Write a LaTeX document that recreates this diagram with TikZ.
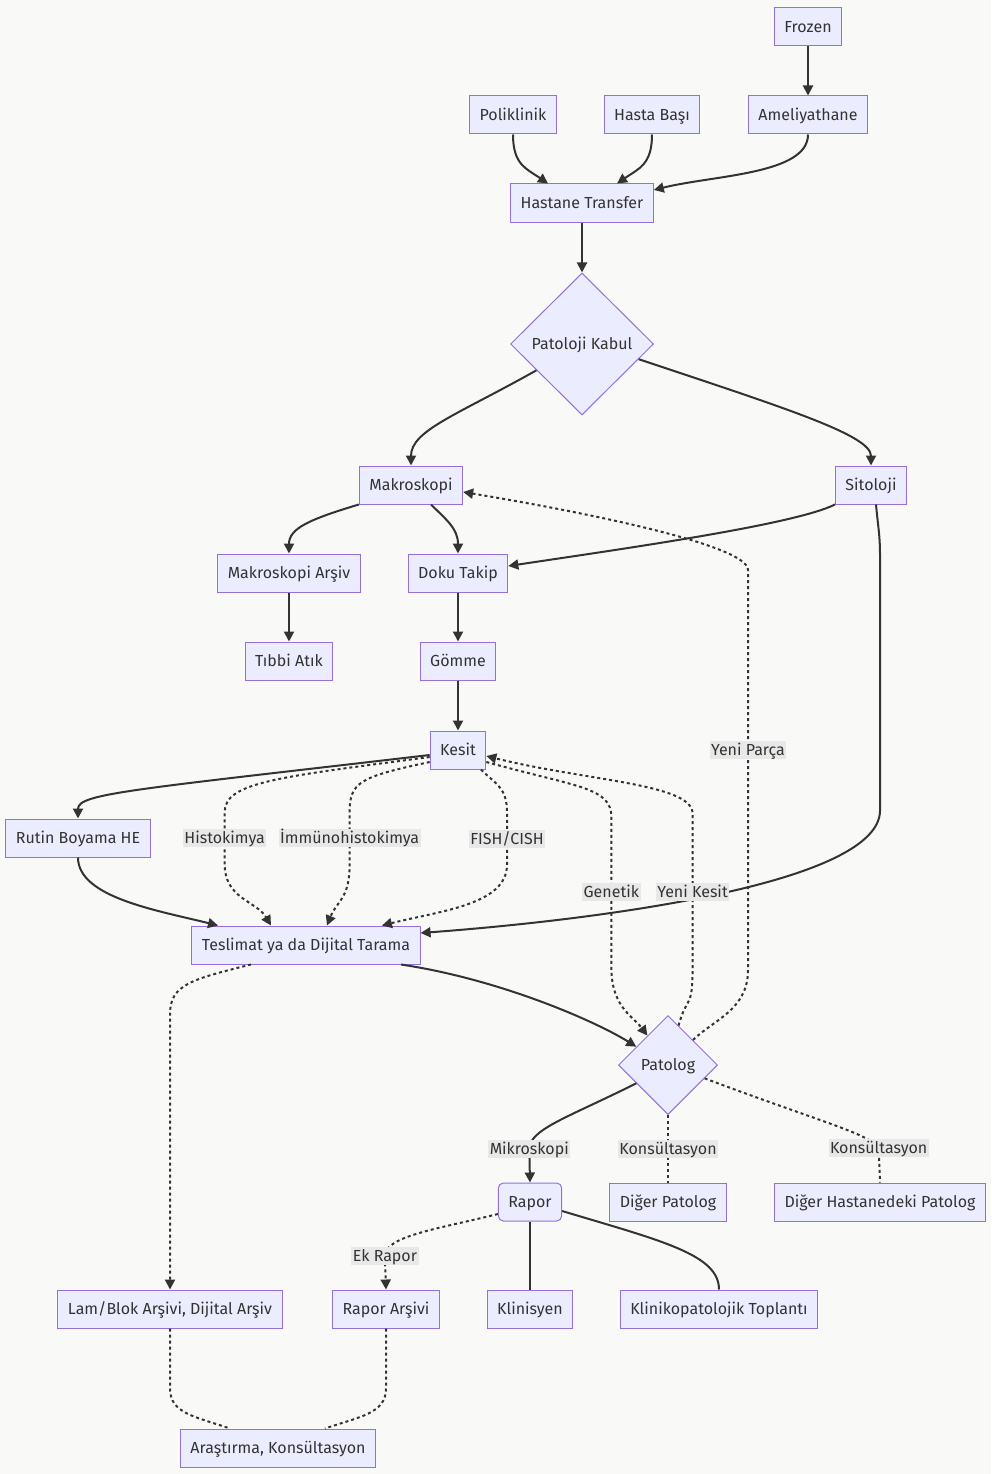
\documentclass[tikz,border=0pt]{standalone}
\usepackage{fontspec}
\setmainfont{Fira Sans}
\usepackage{tikz}
\usetikzlibrary{shapes.geometric, arrows.meta, calc}
\newcommand{\mmfont}{\fontsize{16}{19}\selectfont}
\definecolor{bgcol}{HTML}{F9F9F7}
\definecolor{nodefill}{HTML}{ECECFF}
\definecolor{nodeedge}{HTML}{9370DB}
\definecolor{linegray}{HTML}{333333}
\definecolor{lblfill}{HTML}{E8E8E8}
\tikzstyle{stage} = [rectangle, draw=nodeedge, fill=nodefill, line width=1pt, minimum height=38pt, inner xsep=10pt, text height=13pt, text depth=2pt, text=linegray, font=\mmfont]
\tikzstyle{stageround} = [stage, rounded corners=5pt]
\tikzstyle{decision} = [diamond, aspect=1, draw=nodeedge, fill=nodefill, line width=1pt, inner sep=0pt, text height=13pt, text depth=2pt, text=linegray, font=\mmfont]
\tikzstyle{flow} = [line width=2pt, draw=linegray, -{Triangle[length=10pt,width=10pt]}]
\tikzstyle{dotflow} = [flow, dash pattern=on 3pt off 3pt]
\tikzstyle{link} = [line width=2pt, draw=linegray]
\tikzstyle{dotlink} = [link, dash pattern=on 3pt off 3pt]
\tikzstyle{lbl} = [fill=lblfill, inner sep=1.5pt, text height=13pt, text depth=2pt, text=linegray, font=\mmfont]

\begin{document}
\begin{tikzpicture}[x=1pt, y=-1pt]

        \fill [bgcol] (0,0) rectangle (991,1474);

        % intake
        \node (frozen) [stage] at (808,27) {Frozen};
        \node (amel) [stage, below of=frozen, node distance=88pt] {Ameliyathane};
        \node (hasta) [stage, left of=amel, node distance=156pt] {Hasta Başı};
        \node (polik) [stage, left of=hasta, node distance=139pt] {Poliklinik};
        \node (transfer) [stage] at (582,203) {Hastane Transfer};
        \node (kabul)
            [decision, below of=transfer, node distance=141pt,
             minimum width=143pt, minimum height=142pt]
            {Patoloji Kabul};

        % lab stages
        \node (makro) [stage] at (411,485) {Makroskopi};
        \node (sito) [stage, right of=makro, node distance=460pt] {Sitoloji};
        \node (makarsiv) [stage] at (289,573) {Makroskopi Arşiv};
        \node (atik) [stage, below of=makarsiv, node distance=88pt] {Tıbbi Atık};
        \node (doku) [stage, right of=makarsiv, node distance=169pt] {Doku Takip};
        \node (gomme) [stage, below of=doku, node distance=88pt] {Gömme};
        \node (kesit) [stage, below of=gomme, node distance=89pt] {Kesit};
        \node (rutin) [stage] at (78,838) {Rutin Boyama HE};
        \node (teslimat) [stage] at (306,945) {Teslimat ya da Dijital Tarama};

        % pathologist and outputs
        \node (patolog)
            [decision, minimum width=99pt, minimum height=99pt]
            at (668,1065) {Patolog};
        \node (rapor) [stageround] at (530,1202) {Rapor};
        \node (diger) [stage, below of=patolog, node distance=137pt] {Diğer Patolog};
        \node (digerhast) [stage, right of=diger, node distance=212pt]
            {Diğer Hastanedeki Patolog};
        \node (klinisyen) [stage, below of=rapor, node distance=107pt] {Klinisyen};
        \node (toplanti) [stage, right of=klinisyen, node distance=189pt]
            {Klinikopatolojik Toplantı};
        \node (lam) [stage] at (170,1309) {Lam/Blok Arşivi, Dijital Arşiv};
        \node (raporarsiv) [stage, right of=lam, node distance=216pt] {Rapor Arşivi};
        \node (arastirma) [stage] at (278,1448) {Araştırma, Konsültasyon};

        % arrows
        \draw [flow] (frozen) -- (amel) ;
        \draw [flow] (polik.south) .. controls +(0,30) and +(-22,-15) ..
            ([xshift=-34pt]transfer.north) ;
        \draw [flow] (hasta.south) .. controls +(0,30) and +(22,-15) ..
            ([xshift=35pt]transfer.north) ;
        \draw [flow] (amel.south) .. controls +(0,40) and +(60,-15) ..
            ([yshift=13pt]transfer.east) ;
        \draw [flow] (transfer) -- (kabul) ;

        \draw [flow] (kabul.210) .. controls +(-80,45) and +(0,-35) .. (makro.north) ;
        \draw [flow] (kabul.-15) .. controls +(150,50) and +(0,-30) .. (sito.north) ;

        \draw [flow] (makro.south west) .. controls +(-50,15) and +(0,-25) ..
            (makarsiv.north) ;
        \draw [flow] ([xshift=20pt]makro.south) .. controls +(15,15) and +(0,-25) ..
            (doku.north) ;
        \draw [flow] (sito.south west) .. controls +(-40,20) and +(120,-18) ..
            ([yshift=7pt]doku.east) ;
        \draw [flow] ([xshift=5pt]sito.south) to [out=-85,in=90] ++(4,50)
            -- ++(0,256)
            .. controls +(0,70) and +(200,-15) .. ([yshift=12pt]teslimat.east) ;

        \draw [flow] (makarsiv) -- (atik) ;
        \draw [flow] (doku) -- (gomme) ;
        \draw [flow] (gomme) -- (kesit) ;

        \draw [flow] ([yshift=-5pt]kesit.west) .. controls +(-300,35) and +(0,-25) ..
            (rutin.north) ;
        \draw [dotflow] ([yshift=-7pt]kesit.west)
            .. controls +(-150,20) and +(0,-30) .. ++(-205,55)
            -- node[lbl] {Histokimya} ++(0,52)
            .. controls +(0,35) and +(-15,-25) .. ([xshift=-35pt]teslimat.north) ;
        \draw [dotflow] ([yshift=-12pt]kesit.west)
            .. controls +(-70,15) and +(0,-30) .. ++(-80,50)
            -- node[lbl] {İmmünohistokimya} ++(0,52)
            .. controls +(0,35) and +(10,-25) .. ([xshift=21pt]teslimat.north) ;
        \draw [dotflow] ([xshift=23pt]kesit.south)
            .. controls +(15,15) and +(0,-25) .. ++(26,43)
            -- node[lbl] {FISH/CISH} ++(0,52)
            .. controls +(0,40) and +(60,-15) .. ([xshift=76pt]teslimat.north) ;
        \draw [dotflow] ([yshift=-12pt]kesit.east)
            .. controls +(90,25) and +(0,-30) .. ++(125,55)
            -- node[lbl] {Genetik} ++(0,150)
            .. controls +(0,40) and +(-15,-20) .. (patolog.125) ;
        \draw [dotflow] (patolog.75)
            .. controls +(8,-30) and +(0,40) .. ++(14,-56)
            -- node[lbl] {Yeni Kesit} ++(0,-156)
            .. controls +(0,-30) and +(100,25) .. ([yshift=-6pt]kesit.east) ;
        \draw [dotflow] (patolog.north east)
            .. controls +(20,-20) and +(0,40) .. ++(55,-70)
            -- node[lbl, pos=0.55] {Yeni Parça} ++(0,-400)
            .. controls +(0,-25) and +(120,20) .. ([yshift=-7pt]makro.east) ;

        \draw [flow] (rutin.south) .. controls +(0,40) and +(-60,-15) ..
            ([xshift=-88pt]teslimat.north) ;
        \draw [dotflow] ([xshift=-55pt]teslimat.south)
            .. controls +(-60,15) and +(0,-30) .. ++(-81,50) -- (lam.north) ;
        \draw [flow] ([xshift=95pt]teslimat.south) .. controls +(100,15) and +(-40,-25) ..
            (patolog.150) ;

        \draw [flow] (patolog.210)
            .. controls +(-70,35) and +(0,-20) .. ++(-107,66)
            node[lbl] {Mikroskopi} -- (rapor.north) ;
        \draw [dotlink] (patolog) -- node[lbl] {Konsültasyon} (diger) ;
        \draw [dotlink] (patolog.-20)
            .. controls +(120,45) and +(-10,-15) .. ++(174,70)
            node[lbl] {Konsültasyon} -- (digerhast.north) ;

        \draw [dotflow] ([yshift=-12pt]rapor.west)
            .. controls +(-60,15) and +(0,-20) .. ++(-113,42)
            node[lbl] {Ek Rapor} -- (raporarsiv.north) ;
        \draw [link] (rapor) -- (klinisyen) ;
        \draw [link] ([yshift=-9pt]rapor.east) .. controls +(100,30) and +(0,-35) ..
            (toplanti.north) ;

        \draw [dotlink] (lam.south) -- ++(0,60)
            .. controls +(0,25) and +(-35,-12) .. ([xshift=-48pt]arastirma.north) ;
        \draw [dotlink] (raporarsiv.south) -- ++(0,60)
            .. controls +(0,25) and +(35,-12) .. ([xshift=47pt]arastirma.north) ;

    \end{tikzpicture}
\end{document}
